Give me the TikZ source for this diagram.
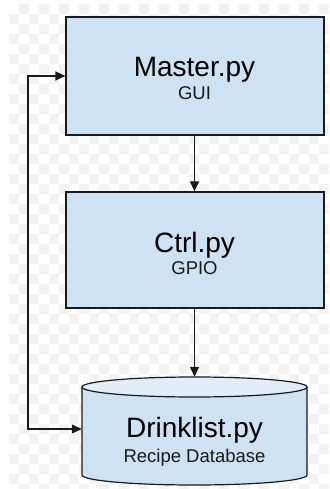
\documentclass[tikz,border=0pt]{standalone}
\usepackage{fontspec}
\setmainfont{Liberation Sans}
\usetikzlibrary{arrows.meta}
\definecolor{boxfill}{HTML}{CFE2F3}
\definecolor{topfill}{HTML}{E2EDF8}
\definecolor{edge}{HTML}{1A1A1A}
\definecolor{check}{HTML}{F3F3F3}
\tikzset{
  procbox/.style={draw=edge, line width=1.2pt, fill=boxfill, rectangle, minimum width=258pt, inner sep=0pt},
  bigtext/.style={anchor=base, font=\fontsize{28}{30}\selectfont, text=black},
  smalltext/.style={anchor=base, font=\fontsize{18.5}{21}\selectfont, text=black!90},
  conn/.style={draw=edge, line width=1.3pt, -{Triangle[length=10pt,width=9pt]}},
  conn2/.style={draw=edge, line width=1.3pt, {Triangle[length=10pt,width=9pt]}-{Triangle[length=10pt,width=9pt]}},
}
\begin{document}
\begin{tikzpicture}[x=1pt,y=-1pt]
\useasboundingbox (0,0) rectangle (329,489);
\fill[white] (0,0) rectangle (329,489);
% faint checker background
\foreach \i in {0,...,31}{
  \foreach \j in {0,...,48}{
    \pgfmathtruncatemacro{\chk}{mod(\i+\j,2)}
    \ifnum\chk=1
      \fill[check] ({9+10*\i},{4+10*\j}) rectangle ++(10,10);
    \fi
  }
}
% boxes
\node[procbox, minimum height=118pt] (master) at (195,76) {};
\node[procbox, minimum height=116pt] (ctrl) at (195,250) {};
% cylinder
\fill[boxfill] (82,387) -- (82,475) arc[start angle=180, end angle=0, x radius=112.5, y radius=10] -- (307,387) -- cycle;
\draw[edge, line width=1.2pt] (82,387) -- (82,475) arc[start angle=180, end angle=0, x radius=112.5, y radius=10] -- (307,387);
\draw[edge, line width=1.2pt, fill=topfill] (194.5,387) ellipse[x radius=112.5, y radius=10];
\node[minimum width=225pt, minimum height=104pt, inner sep=0pt] (db) at (194.5,429) {};
% texts
\node[bigtext] (mt) at (194.5,77) {Master.py};
\node[smalltext] (ms) at (194.5,100) {GUI};
\node[bigtext] (ct) at (194.5,252) {Ctrl.py};
\node[smalltext] (cs) at (194.5,274) {GPIO};
\node[bigtext] (dt) at (194.5,437) {Drinklist.py};
\node[smalltext] (ds) at (194.5,462) {Recipe Database};
% connectors
\coordinate (lp) at (28,0);
\draw[conn] (master.south -| db.north) -- (ctrl.north -| db.north);
\draw[conn] (ctrl.south -| db.north) -- (db.north);
\draw[conn2] (master.west) -- (master.west -| lp) -- (db.west -| lp) -- (db.west);
\end{tikzpicture}
\end{document}
